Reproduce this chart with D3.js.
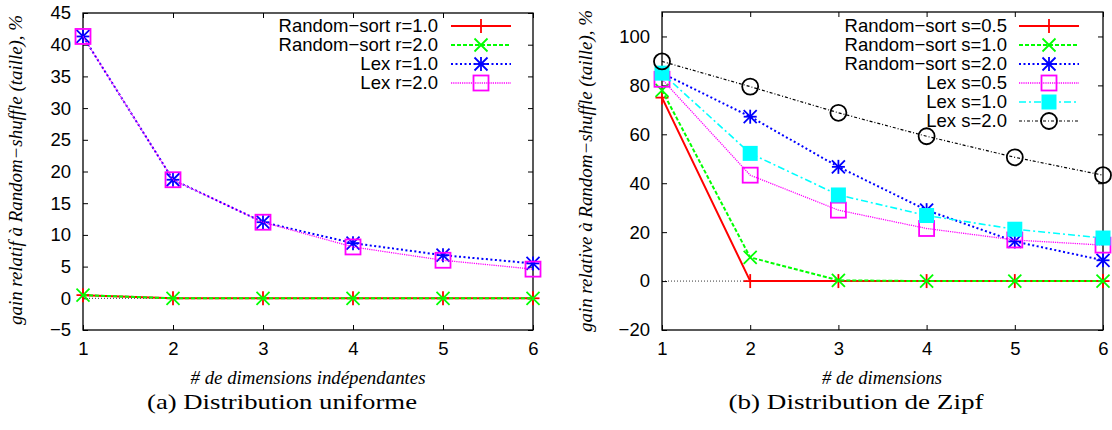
<!DOCTYPE html>
<html><head><meta charset="utf-8">
<script src="https://cdn.jsdelivr.net/npm/d3@7"></script>
<style>body{margin:0;background:#fff}</style>
</head><body><svg id="c" width="1112" height="430"></svg>
<script>
// ---------- data ----------
const dims = [1, 2, 3, 4, 5, 6];

// (a) uniform distribution
const uniRandomSortR1 = [0.5, 0, 0, 0, 0, 0];
const uniRandomSortR2 = [0.5, 0, 0, 0, 0, 0];
const uniLexR1 = [41.3, 18.7, 12.0, 8.7, 6.8, 5.5];
const uniLexR2 = [41.3, 18.7, 12.0, 8.1, 6.0, 4.6];
const uniLabels = ["Random−sort r=1.0", "Random−sort r=2.0", "Lex r=1.0", "Lex r=2.0"];
const uniYTicks = [-5, 0, 5, 10, 15, 20, 25, 30, 35, 40, 45];

// (b) Zipf distribution
const zipfRandomSortS05 = [75, 0, 0, 0, 0, 0];
const zipfRandomSortS10 = [78, 9.7, 0.3, 0, 0, 0];
const zipfRandomSortS20 = [85, 67.2, 46.7, 29, 16.2, 8.5];
const zipfLexS05 = [82.5, 43.3, 29, 21.5, 16.8, 14.7];
const zipfLexS10 = [85, 52.2, 35.2, 26.8, 21.2, 17.6];
const zipfLexS20 = [89.8, 79.5, 68.8, 59.2, 50.6, 43.3];
const zipfLabels = ["Random−sort s=0.5", "Random−sort s=1.0", "Random−sort s=2.0", "Lex s=0.5", "Lex s=1.0", "Lex s=2.0"];
const zipfYTicks = [-20, 0, 20, 40, 60, 80, 100];

// ---------- styles ----------
const styles = {
  red:     {color: "#ff0000", dash: null,        width: 2,   marker: "plus"},
  green:   {color: "#00ff00", dash: "4,2",       width: 2,   marker: "cross"},
  blue:    {color: "#0000ff", dash: "2,2.5",     width: 2,   marker: "star"},
  magenta: {color: "#ff00ff", dash: "1.2,1",     width: 1.3, marker: "box"},
  cyan:    {color: "#00ffff", dash: "7,3,2,3",   width: 1.6, marker: "fbox"},
  black:   {color: "#000000", dash: "3,2,1,2",   width: 1.2, marker: "circle"}
};

const svg = d3.select("#c");
const SANS = "'Liberation Sans', Arial, sans-serif";
const SERIF = "'Liberation Serif', 'Times New Roman', serif";

function drawMarker(g, type, x, y, color) {
  const s = 6.5;
  const line = (x1, y1, x2, y2) => g.append("line").attr("x1", x1).attr("y1", y1).attr("x2", x2).attr("y2", y2)
      .attr("stroke", color).attr("stroke-width", 1.8);
  if (type === "plus" || type === "star") { line(x - s, y, x + s, y); line(x, y - s - 0.5, x, y + s + 0.5); }
  if (type === "cross" || type === "star") { line(x - s, y - s, x + s, y + s); line(x - s, y + s, x + s, y - s); }
  if (type === "box") g.append("rect").attr("x", x - 7.5).attr("y", y - 7.5).attr("width", 15).attr("height", 15)
      .attr("stroke", color).attr("stroke-width", 1.8).attr("fill", "none");
  if (type === "fbox") g.append("rect").attr("x", x - 7.5).attr("y", y - 7.5).attr("width", 15).attr("height", 15)
      .attr("fill", color);
  if (type === "circle") g.append("circle").attr("cx", x).attr("cy", y).attr("r", 8)
      .attr("stroke", color).attr("stroke-width", 1.8).attr("fill", "none");
}

function panel(cfg) {
  const g = svg.append("g");
  const x = d3.scaleLinear().domain([1, 6]).range([cfg.left, cfg.right]);
  const y = d3.scaleLinear().domain(cfg.yDomain).range([cfg.bottom, cfg.top]);

  // zero line
  g.append("line").attr("x1", x(1)).attr("x2", x(6)).attr("y1", y(0)).attr("y2", y(0))
    .attr("stroke", "#000").attr("stroke-width", 0.8).attr("stroke-dasharray", "1,2");

  // axes with ticks inside
  const tick = 5;
  const yAxis = d3.axisLeft(y).tickValues(cfg.yTicks).tickSize(-tick).tickPadding(12).tickFormat(d3.format("d"));
  const yAxisR = d3.axisRight(y).tickValues(cfg.yTicks).tickSize(-tick).tickFormat("");
  const xAxis = d3.axisBottom(x).tickValues(dims).tickSize(-tick).tickPadding(12).tickFormat(d3.format("d"));
  const xAxisT = d3.axisTop(x).tickValues(dims).tickSize(-tick).tickFormat("");
  const ay = g.append("g").attr("transform", `translate(${cfg.left},0)`).call(yAxis);
  const ayr = g.append("g").attr("transform", `translate(${cfg.right},0)`).call(yAxisR);
  const ax = g.append("g").attr("transform", `translate(0,${cfg.bottom})`).call(xAxis);
  const axt = g.append("g").attr("transform", `translate(0,${cfg.top})`).call(xAxisT);
  [ay, ayr, ax, axt].forEach(a => {
    a.select(".domain").remove();
    a.selectAll("line").attr("stroke", "#000").attr("stroke-width", 1);
    a.selectAll("text").attr("font-family", SANS).attr("font-size", 18.5).attr("fill", "#000");
  });
  ax.selectAll("text").attr("dy", "0.71em");
  // frame
  g.append("rect").attr("x", cfg.left).attr("y", cfg.top).attr("width", cfg.right - cfg.left)
    .attr("height", cfg.bottom - cfg.top).attr("fill", "none").attr("stroke", "#000").attr("stroke-width", 1.3);

  // series
  const lineGen = d3.line().x((d, i) => x(dims[i])).y(d => y(d));
  cfg.series.forEach(s => {
    const st = styles[s.style];
    g.append("path").attr("d", lineGen(s.values)).attr("fill", "none").attr("stroke", st.color)
      .attr("stroke-width", st.width).attr("stroke-dasharray", st.dash);
    s.values.forEach((v, i) => drawMarker(g, st.marker, x(dims[i]), y(v), st.color));
  });

  // legend
  cfg.series.forEach((s, i) => {
    const st = styles[s.style];
    const ly = cfg.legendTop + i * 19;
    g.append("text").attr("x", cfg.right - cfg.legText).attr("y", ly).attr("dy", "0.35em")
      .attr("text-anchor", "end").attr("font-family", SANS).attr("font-size", 18.5).text(s.label);
    g.append("line").attr("x1", cfg.right - cfg.legL1).attr("x2", cfg.right - cfg.legL2)
      .attr("y1", ly).attr("y2", ly).attr("stroke", st.color).attr("stroke-width", st.width)
      .attr("stroke-dasharray", st.dash);
    drawMarker(g, st.marker, cfg.right - (cfg.legL1 + cfg.legL2) / 2, ly, st.color);
  });

  // y label
  g.append("text").attr("transform", `translate(${cfg.ylabX},${cfg.ylabY}) rotate(-90)`)
    .attr("text-anchor", "middle").attr("font-family", SERIF).attr("font-style", "italic")
    .attr("font-size", 18).attr("textLength", cfg.ylabLen).attr("lengthAdjust", "spacingAndGlyphs")
    .text(cfg.ylabel);
  // x label
  g.append("text").attr("x", cfg.xlabX).attr("y", 384).attr("text-anchor", "middle")
    .attr("font-family", SERIF).attr("font-style", "italic").attr("font-size", 19)
    .attr("textLength", cfg.xlabLen).attr("lengthAdjust", "spacingAndGlyphs").text(cfg.xlabel);
  // caption
  g.append("text").attr("x", cfg.capX).attr("y", 409).attr("text-anchor", "middle")
    .attr("font-family", SERIF).attr("font-size", 22)
    .attr("textLength", cfg.capLen).attr("lengthAdjust", "spacingAndGlyphs").text(cfg.caption);
}

panel({
  left: 83, right: 533, top: 13, bottom: 330, yDomain: [-5, 45], yTicks: uniYTicks,
  series: [
    {label: uniLabels[0], values: uniRandomSortR1, style: "red"},
    {label: uniLabels[1], values: uniRandomSortR2, style: "green"},
    {label: uniLabels[2], values: uniLexR1, style: "blue"},
    {label: uniLabels[3], values: uniLexR2, style: "magenta"}
  ],
  legendTop: 26, legText: 95, legL1: 82, legL2: 22,
  ylabel: "gain relatif à Random−shuffle (taille), %", ylabX: 22, ylabY: 170, ylabLen: 310,
  xlabel: "# de dimensions indépendantes", xlabX: 308, xlabLen: 235,
  caption: "(a) Distribution uniforme", capX: 282, capLen: 270
});

panel({
  left: 662, right: 1103, top: 12, bottom: 330, yDomain: [-20, 110], yTicks: zipfYTicks,
  series: [
    {label: zipfLabels[0], values: zipfRandomSortS05, style: "red"},
    {label: zipfLabels[1], values: zipfRandomSortS10, style: "green"},
    {label: zipfLabels[2], values: zipfRandomSortS20, style: "blue"},
    {label: zipfLabels[3], values: zipfLexS05, style: "magenta"},
    {label: zipfLabels[4], values: zipfLexS10, style: "cyan"},
    {label: zipfLabels[5], values: zipfLexS20, style: "black"}
  ],
  legendTop: 26, legText: 96, legL1: 84, legL2: 24,
  ylabel: "gain relative à Random−shuffle (taille), %", ylabX: 592, ylabY: 171, ylabLen: 322,
  xlabel: "# de dimensions", xlabX: 882, xlabLen: 120,
  caption: "(b) Distribution de Zipf", capX: 856, capLen: 255
});
</script></body></html>
